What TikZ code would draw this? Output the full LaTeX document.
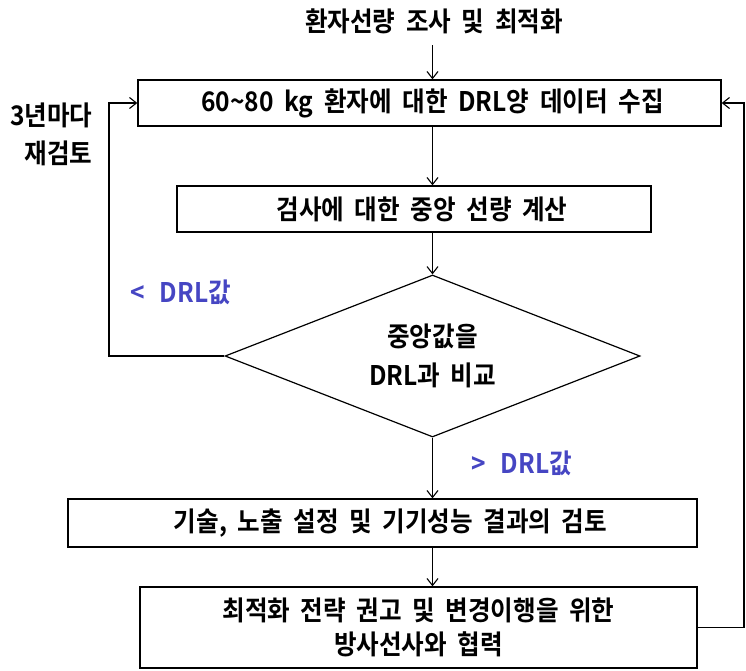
\documentclass[tikz,border=0pt]{standalone}
\usepackage{fontspec}
\setmainfont{Noto Sans CJK KR}[BoldFont={Noto Sans CJK KR Bold}, WordSpace=1.9, FakeStretch=0.91]
\usetikzlibrary{arrows.meta,shapes.geometric}
\definecolor{lblue}{RGB}{70,70,195}
\begin{document}
\begin{tikzpicture}[x=1pt,y=-1pt,
  font=\bfseries\fontsize{27}{29}\selectfont,
  box/.style={draw, line width=1.3pt, inner sep=0pt, align=center},
  arr/.style={draw, line width=1.1pt, -{Straight Barb[length=7pt,width=11pt]}},
  lab/.style={text=lblue}]
\useasboundingbox (0,0) rectangle (746,670);
\node (top) at (434,21) {환자선량 조사 및 최적화};
\node[box, minimum width=583pt, minimum height=46pt] (b1) at (429.5,103)
  {\hspace*{6pt}60{\char"7E}80 kg 환자에 대한 DRL양 데이터 수집};
\node[box, minimum width=474pt, minimum height=46pt] (b2) at (414,209)
  {\hspace*{16pt}검사에 대한 중앙 선량 계산};
\node[draw, line width=1.2pt, shape=diamond, aspect=2.56, inner sep=0pt,
  minimum width=415pt, minimum height=162pt, align=center] (dia) at (432.5,356)
  {\\[-6pt]중앙값을\\[10pt]DRL과 비교};
\node[box, minimum width=629pt, minimum height=48pt] (b3) at (382.5,523)
  {\hspace*{16pt}기술, 노출 설정 및 기기성능 결과의 검토};
\node[box, minimum width=557pt, minimum height=81pt] (b4) at (418.5,627.5)
  {최적화 전략 권고 및 변경이행을 위한\\[5pt]방사선사와 협력};
\node[lab] (lt) at (181,292) {<\hspace{4pt} DRL값};
\node[lab] (gt) at (522,463) {>\hspace{4pt} DRL값};
\node[align=right, anchor=east] (rev) at (96,134) {3년마다\\[9pt]재검토};
\coordinate (L) at (109,0);
\coordinate (R) at (744,0);
\draw[arr, shorten <=8pt] (top.south -| dia) -- (b1.north -| dia);
\draw[arr] (b1.south -| dia) -- (b2.north -| dia);
\draw[arr] (b2.south -| dia) -- (dia.north);
\draw[arr] (dia.south) -- (b3.north -| dia);
\draw[arr] (b3.south -| dia) -- (b4.north -| dia);
\draw[arr] (dia.west) -- (dia.west -| L) |- (b1.west);
\draw[arr] (b4.east) -- (b4.east -| R) |- (b1.east);
\end{tikzpicture}
\end{document}
